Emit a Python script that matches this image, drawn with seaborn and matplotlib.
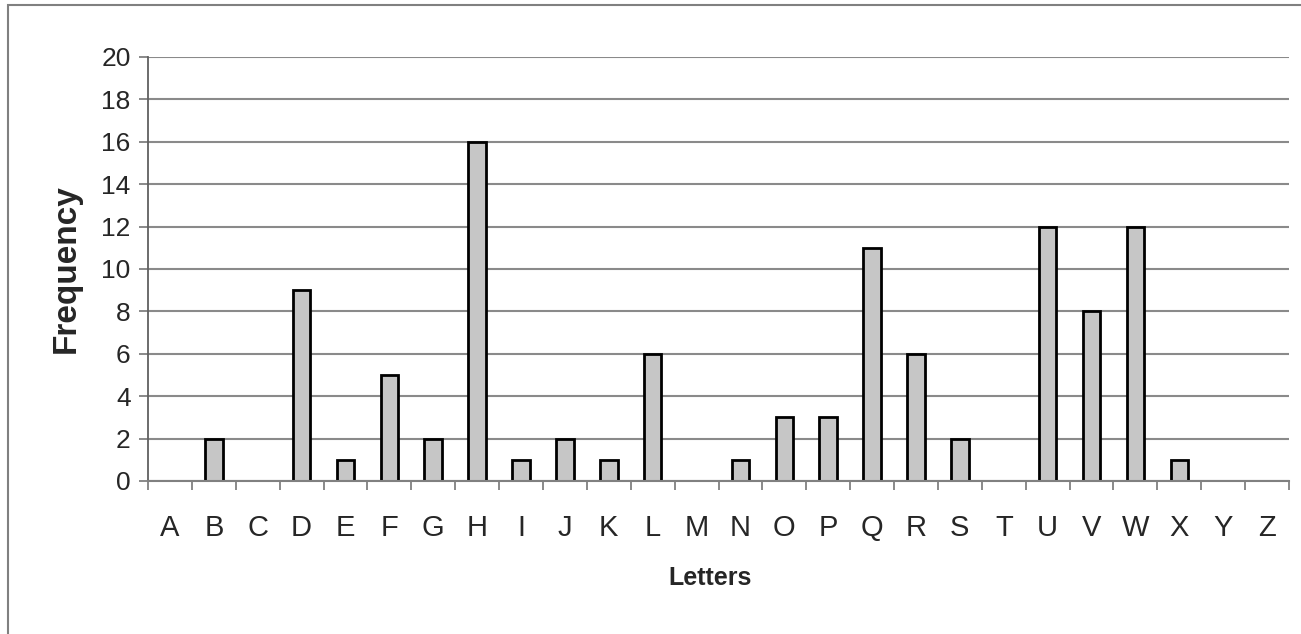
import numpy as np
import pandas as pd
import matplotlib
matplotlib.use('Agg')
import matplotlib.pyplot as plt
import seaborn as sns
from matplotlib.patches import Rectangle
from matplotlib.ticker import MultipleLocator

# data
letters = list('ABCDEFGHIJKLMNOPQRSTUVWXYZ')
frequency = [0, 2, 0, 9, 1, 5, 2, 16, 1, 2, 1, 6, 0,
             1, 3, 3, 11, 6, 2, 0, 12, 8, 12, 1, 0, 0]
y_ticks = list(range(0, 21, 2))

freqData = pd.DataFrame({'Letters': letters, 'Frequency': frequency})

sns.set_style('white')
plt.rcParams['font.family'] = ['Liberation Sans', 'DejaVu Sans']

fig = plt.figure(figsize=(13.01, 6.34), dpi=100)
ax = fig.add_axes([148 / 1301, 1 - 481 / 634, (1289 - 148) / 1301, (481 - 57) / 634])

# outer chart-area border (Excel style)
fig.patches.append(Rectangle((8 / 1301, -0.05), 1.1, 1 - 5 / 634 + 0.05,
                             transform=fig.transFigure, fill=False,
                             edgecolor='#808080', linewidth=1.5))

sns.barplot(data=freqData, x='Letters', y='Frequency', order=letters,
            color='#c6c6c6', saturation=1, width=0.4,
            edgecolor='black', linewidth=2, ax=ax)

# empty categories should not leave a stub on the axis
for bar in ax.patches:
    if bar.get_height() == 0:
        bar.set_visible(False)

ax.set_ylim(0, 20)
ax.set_xlim(-0.5, len(letters) - 0.5)
ax.set_yticks(y_ticks)
ax.yaxis.grid(True, color='#8a8a8a', linewidth=1.5)
ax.set_axisbelow(True)

for side in ['top', 'right']:
    ax.spines[side].set_visible(False)
ax.spines['left'].set_color('#606060')
ax.spines['bottom'].set_color('#808080')
ax.spines['left'].set_linewidth(1.3)
ax.spines['bottom'].set_linewidth(1.5)

ax.tick_params(axis='y', which='major', left=True, length=6.5, width=1.3,
               color='#808080', pad=6, labelsize=19)
ax.xaxis.set_minor_locator(MultipleLocator(1, offset=0.5))
ax.tick_params(axis='x', which='minor', bottom=True, length=6.5, width=1.3,
               color='#808080')
ax.tick_params(axis='x', which='major', bottom=True, length=0, pad=24,
               labelsize=21)

ax.set_xlabel('Letters', fontsize=18, fontweight='bold')
ax.set_ylabel('Frequency', fontsize=24, fontweight='bold')
ax.xaxis.set_label_coords(0.4926, -0.2)
ax.yaxis.set_label_coords(-0.058, 0.5)

fig.savefig('out.png', dpi=100)
